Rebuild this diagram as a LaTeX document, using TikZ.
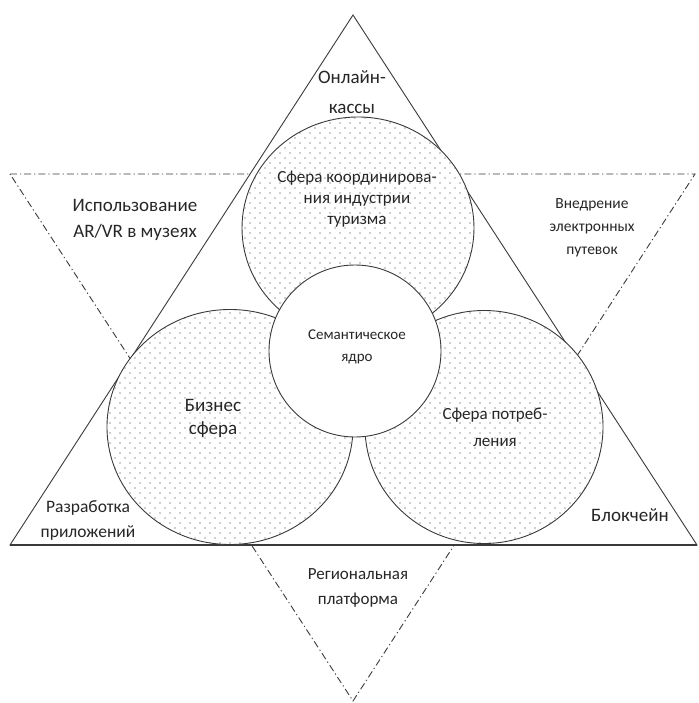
\documentclass[tikz,border=0pt]{standalone}
\usepackage{fontspec}
\setmainfont{Carlito}
\usepackage{xcolor}
\definecolor{ink}{HTML}{3A3A3A}
\definecolor{dotgray}{HTML}{303030}
\usepackage{tikz}
\usetikzlibrary{shapes.geometric}
\usetikzlibrary{patterns}
\pgfdeclarepatternformonly{sparse dots}{\pgfqpoint{-1pt}{-1pt}}{\pgfqpoint{11pt}{11pt}}{\pgfqpoint{10pt}{10pt}}{\pgfpathcircle{\pgfqpoint{0pt}{0pt}}{0.6pt}\pgfpathcircle{\pgfqpoint{5pt}{5pt}}{0.6pt}\pgfusepath{fill}}
\tikzset{tri/.style = {draw=ink, line width=0.9pt, line join=miter}}
\tikzset{cut/.style = {draw=ink, line width=0.9pt, dash pattern=on 7pt off 3pt on 1.2pt off 3pt}}
\tikzset{sphere/.style = {draw=ink, ellipse, line width=0.9pt, inner sep=0pt, preaction={fill=white}, pattern=sparse dots, pattern color=dotgray}}
\tikzset{core/.style = {draw=ink, circle, line width=0.9pt, inner sep=0pt, fill=white}}
\tikzset{lbl/.style = {align=center, text centered, inner sep=0pt, text=black!85}}

\begin{document}
\begin{tikzpicture}[x=1pt, y=-1pt]

\useasboundingbox (0,0) rectangle (698,703);

% vertices of both triangles
\coordinate (t0) at (353,15);
\coordinate (t1) at (10,545);
\coordinate (t2) at (697,545);
\coordinate (d0) at (10,174);
\coordinate (d1) at (695,174);
\coordinate (d2) at (353,701);

\draw[cut] (d0) -- (d1) -- (d2) -- cycle;
\draw[tri, fill=white] (t0) -- (t1) -- (t2) -- cycle;
\draw[tri, line width=1.4pt] (t1) -- (t2);

% the spheres
\node[sphere, minimum width=232pt, minimum height=222pt] (s1) at (358,228) {};
\node[sphere, minimum width=246pt, minimum height=235pt] (s2) at (230,427) {};
\node[sphere, minimum width=238pt, minimum height=233pt] (s3) at (484,427) {};
\node[core, minimum size=172pt] (s0) at (355,351) {};

\node[lbl, font=\fontsize{17}{21}\selectfont] (s1t) at (357,199) {Сфера координирова-\\ния индустрии\\туризма};
\node[lbl, font=\fontsize{19}{23}\selectfont] (s2t) at (213,418) {Бизнес\\сфера};
\node[lbl, font=\fontsize{17}{27}\selectfont] (s3t) at (495,427) {Сфера потреб-\\ления};
\node[lbl, font=\fontsize{15}{22}\selectfont] (s0t) at (357,347) {Семантическое\\ядро};

% corner texts
\node[lbl, font=\fontsize{19}{30}\selectfont] (c1) at (352,92) {Онлайн-\\кассы};
\node[lbl, font=\fontsize{19}{26}\selectfont] (c2) at (135,220) {Использование\\AR/VR в музеях};
\node[lbl, font=\fontsize{15.5}{23}\selectfont] (c3) at (592,228) {Внедрение\\электронных\\путевок};
\node[lbl, font=\fontsize{17.5}{25}\selectfont] (c4) at (88,520) {Разработка\\приложений};
\node[lbl, font=\fontsize{19}{25}\selectfont] (c5) at (630,515) {Блокчейн};
\node[lbl, font=\fontsize{17}{25}\selectfont] (c6) at (358,588) {Региональная\\платформа};

\end{tikzpicture}
\end{document}
